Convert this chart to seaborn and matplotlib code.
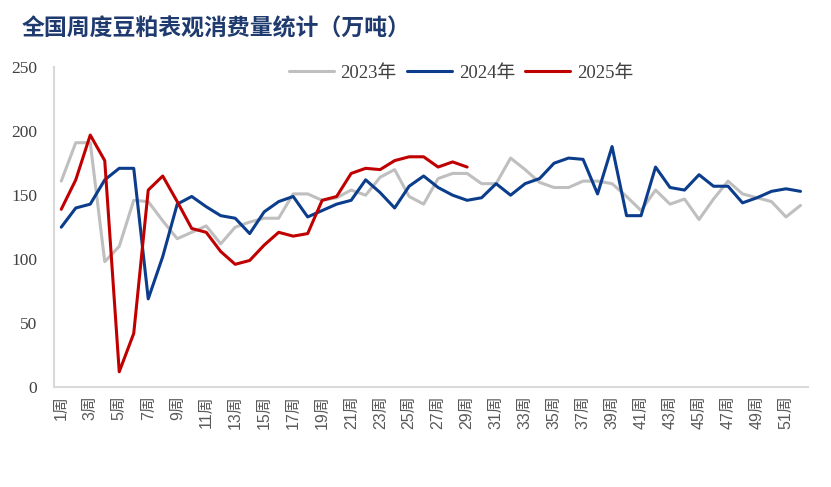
import numpy as np
import pandas as pd
import matplotlib
matplotlib.use("Agg")
import matplotlib.pyplot as plt
import seaborn as sns
from matplotlib.ticker import MultipleLocator

# weekly apparent consumption, 10k tonnes
weeks = list(range(1, 53))
y2023 = [161, 191, 191, 98, 110, 146, 145, 130, 116, 121, 126, 112, 125, 129, 132, 132, 151, 151,
         146, 148, 154, 150, 164, 170, 149, 143, 163, 167, 167, 159, 159, 179, 170, 160, 156,
         156, 161, 161, 159, 149, 138, 154, 143, 147, 131, 147, 161, 151, 148, 145, 133, 142]
y2024 = [125, 140, 143, 162, 171, 171, 69, 102, 143, 149, 141, 134, 132, 120, 137, 145, 149, 133,
         138, 143, 146, 162, 152, 140, 157, 165, 156, 150, 146, 148, 159, 150, 159, 163, 175,
         179, 178, 151, 188, 134, 134, 172, 156, 154, 166, 157, 157, 144, 148, 153, 155, 153]
y2025 = [139, 162, 197, 177, 12, 42, 154, 165, 145, 124, 121, 106, 96, 99, 111, 121, 118, 120,
         146, 149, 167, 171, 170, 177, 180, 180, 172, 176, 172]
years = ["2023年", "2024年", "2025年"]
colors = ["#BFBFBF", "#0B3D8C", "#C00000"]

rows = []
for name, vals in zip(years, [y2023, y2024, y2025]):
    for w, v in zip(weeks, vals):
        rows.append({"week": w, "value": v, "year": name})
df = pd.DataFrame(rows)

sns.set_style("white")
plt.rcParams['font.family'] = ['Liberation Serif', 'Noto Sans CJK SC']

fig = plt.figure(figsize=(8.31, 4.87), dpi=100)
ax = fig.add_axes([0.065, 0.205, 0.907, 0.657])

sns.lineplot(data=df, x="week", y="value", hue="year", hue_order=years,
             palette=colors, linewidth=2.2, ax=ax)

ax.set_xlim(0.5, 52.5)
ax.set_ylim(0, 250)
ax.yaxis.set_major_locator(MultipleLocator(50))
ax.yaxis.set_minor_locator(MultipleLocator(10))
ax.set_xticks(weeks[::2])
ax.set_xticklabels([f"{w}周" for w in weeks[::2]], rotation=90,
                   family=['Liberation Sans', 'Noto Sans CJK SC'], fontsize=11.5, color="#595959")
ax.tick_params(axis="x", length=0, pad=6)
ax.tick_params(axis="y", which="both", direction="in", length=5, color="#D0D0D0",
               labelsize=12.5, labelcolor="#404040", pad=12)
ax.set_xlabel("")
ax.set_ylabel("")

for side in ["top", "right"]:
    ax.spines[side].set_visible(False)
for side in ["left", "bottom"]:
    ax.spines[side].set_color("#D9D9D9")
    ax.spines[side].set_linewidth(1.5)

ax.legend(loc="upper center", bbox_to_anchor=(0.54, 1.06), ncol=3, frameon=False,
          fontsize=13.5, handlelength=2.4, columnspacing=0.55, handletextpad=0.35,
          labelcolor="#404040")

fig.text(0.026, 0.94, "全国周度豆粕表观消费量统计（万吨）", family=['Noto Sans CJK SC'],
         fontsize=16.5, fontweight="bold", color="#1F3A6E", va="center", ha="left")

fig.savefig("out.png", dpi=100)
